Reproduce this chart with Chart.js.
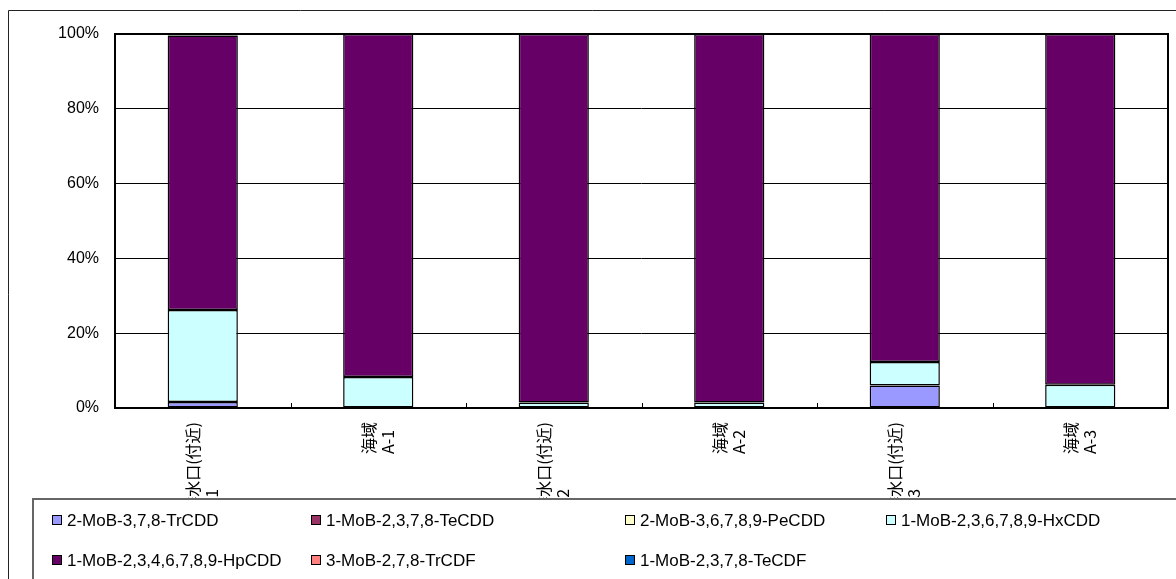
<!DOCTYPE html>
<html>
<head>
<meta charset="utf-8">
<script src="https://cdn.jsdelivr.net/npm/chart.js@4.4.0/dist/chart.umd.min.js"></script>
<style>
  html, body { margin: 0; padding: 0; background: #fff; }
</style>
</head>
<body>
<canvas id="chart" width="1176" height="579"></canvas>
<script>
// sampling points (two lines each)
const categories = [
  ["処理場排水口(付近)", "地点No.-1"],
  ["海域", "A-1"],
  ["処理場排水口(付近)", "地点No.-2"],
  ["海域", "A-2"],
  ["処理場排水口(付近)", "地点No.-3"],
  ["海域", "A-3"]
];

const seriesNames = [
  "2-MoB-3,7,8-TrCDD",
  "1-MoB-2,3,7,8-TeCDD",
  "2-MoB-3,6,7,8,9-PeCDD",
  "1-MoB-2,3,6,7,8,9-HxCDD",
  "1-MoB-2,3,4,6,7,8,9-HpCDD",
  "3-MoB-2,7,8-TrCDF",
  "1-MoB-2,3,7,8-TeCDF"
];
const seriesColors = ["#9999FF", "#993366", "#FFFFCC", "#CCFFFF", "#660066", "#FF8080", "#0066CC"];

// composition in %
const trcdd = [1.6, 0, 0, 0, 6.0, 0];
const tecdd = [0, 0, 0, 0, 0, 0];
const pecdd = [0, 0, 0, 0, 0, 0];
const hxcdd = [24.6, 8.3, 1.5, 1.5, 6.3, 6.2];
const hpcdd = [73.4, 91.7, 98.5, 98.5, 87.7, 93.8];
const trcdf = [0, 0, 0, 0, 0, 0];
const tecdf = [0.4, 0, 0, 0, 0, 0];

const yTicks = [0, 20, 40, 60, 80, 100];

const seriesValues = [trcdd, tecdd, pecdd, hxcdd, hpcdd, trcdf, tecdf];

const LABEL_FONT = "16px 'Noto Sans CJK JP', sans-serif";
const TEXT_FONT = "17px 'Liberation Sans', 'Noto Sans CJK JP', sans-serif";

// draws frame, category labels, inner ticks and the boxed legend
const decorations = {
  id: "decorations",
  afterDraw(chart) {
    const ctx = chart.ctx;
    const area = chart.chartArea;
    const xs = chart.scales.x;
    ctx.save();

    // small ticks between categories
    ctx.strokeStyle = "#000";
    ctx.lineWidth = 1;
    const half = (xs.getPixelForValue(1) - xs.getPixelForValue(0)) / 2;
    for (let i = 0; i < categories.length - 1; i++) {
      const x = Math.round(xs.getPixelForValue(i) + half) + 0.5;
      ctx.beginPath();
      ctx.moveTo(x, area.bottom);
      ctx.lineTo(x, area.bottom - 5);
      ctx.stroke();
    }

    // plot border
    ctx.lineWidth = 2;
    ctx.strokeRect(area.left, area.top, area.right - area.left, area.bottom - area.top);

    // rotated category labels
    ctx.font = LABEL_FONT;
    ctx.fillStyle = "#000";
    ctx.textBaseline = "middle";
    ctx.textAlign = "left";
    const lineGap = 19;
    categories.forEach((lines, i) => {
      const cx = xs.getPixelForValue(i);
      const maxW = Math.max(...lines.map(t => ctx.measureText(t).width));
      const yStart = area.bottom + 14 + maxW;
      lines.forEach((t, j) => {
        const lx = cx + (j - (lines.length - 1) / 2) * lineGap;
        ctx.save();
        ctx.translate(lx, yStart);
        ctx.rotate(-Math.PI / 2);
        ctx.fillText(t, 0, 0);
        ctx.restore();
      });
    });

    // outer frame
    ctx.strokeStyle = "#222";
    ctx.lineWidth = 1;
    ctx.beginPath();
    ctx.moveTo(8.5, chart.height);
    ctx.lineTo(8.5, 10.5);
    ctx.lineTo(chart.width, 10.5);
    ctx.stroke();

    // legend box
    const bx = 33, by = 499;
    ctx.fillStyle = "#fff";
    ctx.fillRect(bx, by, chart.width - bx, chart.height - by);
    ctx.strokeStyle = "#666";
    ctx.lineWidth = 2;
    ctx.beginPath();
    ctx.moveTo(bx, chart.height);
    ctx.lineTo(bx, by);
    ctx.lineTo(chart.width, by);
    ctx.stroke();

    const colX = [52, 311, 625, 886];
    const rowY = [520, 560];
    ctx.font = TEXT_FONT;
    ctx.textBaseline = "middle";
    ctx.textAlign = "left";
    seriesNames.forEach((name, k) => {
      const x = colX[k % 4];
      const y = rowY[Math.floor(k / 4)];
      ctx.fillStyle = seriesColors[k];
      ctx.fillRect(x, y - 5, 10, 10);
      ctx.strokeStyle = "#000";
      ctx.lineWidth = 1;
      ctx.strokeRect(x + 0.5, y - 4.5, 9, 9);
      ctx.fillStyle = "#000";
      ctx.fillText(name, x + 15, y + 1);
    });

    ctx.restore();
  }
};

// zero shares are left out so they draw no border line
const datasets = seriesNames.map((name, k) => ({
  label: name,
  data: seriesValues[k].map(v => (v === 0 ? null : v)),
  backgroundColor: seriesColors[k],
  borderColor: "#000",
  borderWidth: 1.5,
  borderSkipped: false,
  barPercentage: 0.4,
  categoryPercentage: 1
}));

new Chart(document.getElementById("chart"), {
  type: "bar",
  data: {
    labels: categories.map(c => c.join(" ")),
    datasets: datasets
  },
  options: {
    responsive: false,
    animation: false,
    devicePixelRatio: 1,
    layout: { padding: { top: 34, right: 8, left: 0, bottom: 0 } },
    plugins: {
      legend: { display: false },
      tooltip: { enabled: false }
    },
    scales: {
      x: {
        stacked: true,
        grid: { display: false },
        border: { display: false },
        ticks: { display: false },
        afterFit: s => { s.height = 171; }
      },
      y: {
        stacked: true,
        min: 0,
        max: 100,
        afterBuildTicks: s => { s.ticks = yTicks.map(v => ({ value: v })); },
        grid: { color: "#000", lineWidth: 1, drawTicks: false },
        border: { display: false },
        ticks: {
          color: "#000",
          padding: 16,
          font: { family: "'Liberation Sans', sans-serif", size: 16 },
          callback: v => v + "%"
        },
        afterFit: s => { s.width = 115; }
      }
    }
  },
  plugins: [decorations]
});
</script>
</body>
</html>
